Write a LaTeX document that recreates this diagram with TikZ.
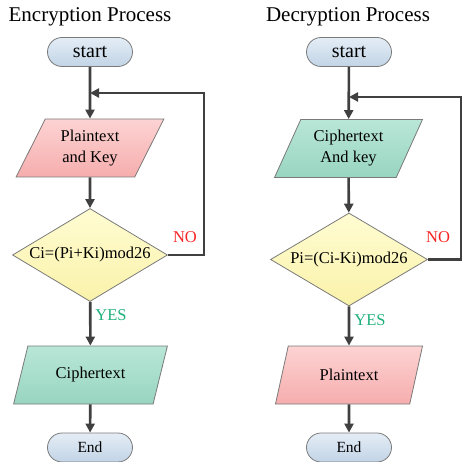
\documentclass[tikz,border=0pt]{standalone}
\usepackage{fontspec}
\setmainfont{Liberation Serif}
\usepackage{tikz}
\usetikzlibrary{shapes.geometric}
\usetikzlibrary{shapes.misc}
\usetikzlibrary{arrows.meta}
\definecolor{linegray}{HTML}{404040}
\definecolor{edgegray}{HTML}{7A7A7A}
\definecolor{startTop}{HTML}{E4EDF6}
\definecolor{startBot}{HTML}{C2D4E6}
\definecolor{pinkTop}{HTML}{FDD3D3}
\definecolor{pinkBot}{HTML}{F6ADAD}
\definecolor{tealTop}{HTML}{B9E6D7}
\definecolor{tealBot}{HTML}{98D5C1}
\definecolor{yellowTop}{HTML}{FFFCD2}
\definecolor{yellowBot}{HTML}{FAF2AA}
\definecolor{yesgreen}{HTML}{1DB07A}
\definecolor{nored}{HTML}{F52525}
\tikzset{term/.style={rounded rectangle,draw=edgegray,line width=0.8pt,top color=startTop,bottom color=startBot,minimum width=85pt,minimum height=29pt,inner sep=0pt,font=\rmfamily\fontsize{20}{24}\selectfont}}
\tikzset{io/.style={trapezium,trapezium left angle=62,trapezium right angle=118,trapezium stretches=true,draw=edgegray,line width=0.8pt,minimum width=148pt,minimum height=58pt,inner sep=0pt,align=center,font=\rmfamily\fontsize{16.5}{21}\selectfont}}
\tikzset{pinkfill/.style={top color=pinkTop,bottom color=pinkBot}}
\tikzset{tealfill/.style={top color=tealTop,bottom color=tealBot}}
\tikzset{test/.style={diamond,shape aspect=1.67,draw=edgegray,line width=0.8pt,top color=yellowTop,bottom color=yellowBot,minimum width=155pt,minimum height=93pt,inner sep=0pt,font=\rmfamily\fontsize{16.5}{20}\selectfont}}
\tikzset{flow/.style={draw=linegray,line width=2.6pt,-{Triangle[length=9pt,width=9pt]}}}
\tikzset{set title/.style={font=\rmfamily\fontsize{21}{25}\selectfont}}
\tikzset{no label/.style={text=nored,font=\rmfamily\fontsize{16.5}{20}\selectfont}}
\tikzset{yes label/.style={text=yesgreen,font=\rmfamily\fontsize{16.5}{20}\selectfont}}

\begin{document}
\begin{tikzpicture}
        \useasboundingbox (0pt,0pt) rectangle (463pt,-462pt);

          %暗号化
          \node[set title] (T1) at (90pt, -17pt) {Encryption Process};
          \node[term] (s1) at (90pt, -52pt) {start};
          \node[io, pinkfill] (p1) at (90pt, -148pt) {Plaintext\\and Key};
          \node[test] (d1) at (90pt, -255pt) {Ci=(Pi+Ki)mod26};
          \node[io, tealfill, minimum width=155pt] (o1) at (90.5pt, -375pt) {Ciphertext};
          \node[term, font=\rmfamily\fontsize{15.5}{19}\selectfont] (e1) at (90pt, -447.5pt) {End};
          \coordinate (m1) at (90pt, -93pt);
          \coordinate (c1) at (204pt, -93pt);

          \draw[flow] (s1) -- (p1);
          \draw[flow] (p1) -- (d1);
          \draw[flow] (d1) -- (o1);
          \draw[flow] (o1) -- (e1);
          \draw[flow] (d1.east) -| (c1) -- (m1);
          \node[no label] (n1) at (185pt, -237pt) {NO};
          \node[yes label] (y1) at (111pt, -315pt) {YES};

          %復号
          \node[set title] (T2) at (348pt, -17pt) {Decryption Process};
          \node[term] (s2) at (349pt, -52pt) {start};
          \node[io, tealfill] (p2) at (348.5pt, -148.5pt) {Ciphertext\\And key};
          \node[test, minimum width=157pt] (d2) at (349pt, -259.5pt) {Pi=(Ci-Ki)mod26};
          \node[io, pinkfill] (o2) at (349pt, -375pt) {Plaintext};
          \node[term, font=\rmfamily\fontsize{15.5}{19}\selectfont] (e2) at (349pt, -447.5pt) {End};
          \coordinate (m2) at (349pt, -97pt);
          \coordinate (c2) at (461pt, -97pt);

          \draw[flow] (s2) -- (p2);
          \draw[flow] (p2) -- (d2);
          \draw[flow] (d2) -- (o2);
          \draw[flow] (o2) -- (e2);
          \draw[flow] (d2.east) -| (c2) -- (m2);
          \node[no label] (n2) at (438pt, -237pt) {NO};
          \node[yes label] (y2) at (370pt, -320pt) {YES};

        \end{tikzpicture}
\end{document}
